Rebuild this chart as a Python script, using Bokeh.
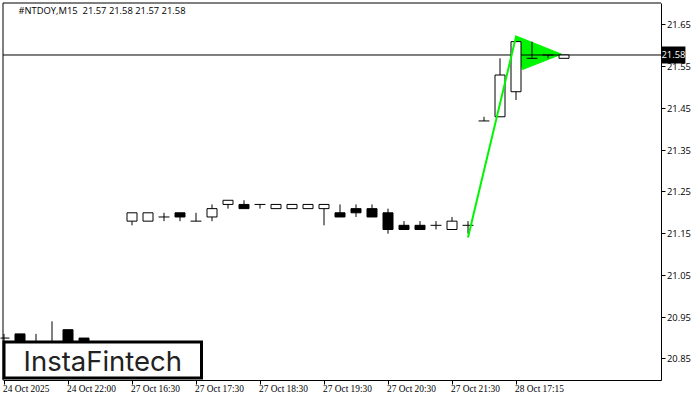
from bokeh.plotting import figure
from bokeh.models import (ColumnDataSource, FixedTicker, Label, LabelSet, Range1d, BoxAnnotation)
from bokeh.embed import file_html
from bokeh.resources import INLINE

title_text = "#NTDOY,M15\u00a0 21.57 21.58 21.57 21.58"
logo_text = "InstaFintech"
last_price = 21.578
last_label = "21.58"

idx = [0, 1, 2, 3, 4, 5,
       8, 9, 10, 11, 12, 13, 14, 15, 16, 17, 18, 19, 20, 21, 22, 23, 24, 25, 26, 27, 28, 29,
       30, 31, 32, 33, 34, 35]
opens = [20.90, 20.91, 20.88, 20.88, 20.92, 20.90,
         21.18, 21.18, 21.19, 21.20, 21.18, 21.19, 21.22, 21.22, 21.22, 21.21, 21.21, 21.21, 21.21,
         21.20, 21.21, 21.21, 21.20, 21.17, 21.17, 21.17, 21.16, 21.17,
         21.42, 21.43, 21.49, 21.57, 21.578, 21.57]
closes = [20.90, 20.88, 20.88, 20.88, 20.88, 20.88,
          21.20, 21.20, 21.19, 21.19, 21.18, 21.21, 21.23, 21.21, 21.22, 21.22, 21.22, 21.22, 21.22,
          21.19, 21.20, 21.19, 21.16, 21.16, 21.16, 21.17, 21.18, 21.17,
          21.42, 21.53, 21.61, 21.57, 21.578, 21.578]
highs = [20.91, 20.91, 20.91, 20.94, 20.92, 20.90,
         21.20, 21.20, 21.20, 21.20, 21.20, 21.22, 21.23, 21.23, 21.22, 21.22, 21.22, 21.22, 21.22,
         21.22, 21.22, 21.22, 21.21, 21.18, 21.18, 21.18, 21.19, 21.18,
         21.43, 21.57, 21.61, 21.61, 21.578, 21.578]
lows = [20.88, 20.87, 20.87, 20.87, 20.86, 20.86,
        21.17, 21.18, 21.18, 21.18, 21.18, 21.18, 21.21, 21.21, 21.21, 21.21, 21.21, 21.21, 21.17,
        21.19, 21.19, 21.19, 21.15, 21.16, 21.16, 21.16, 21.16, 21.15,
        21.42, 21.43, 21.47, 21.57, 21.57, 21.57]

pole_x = [29, 32]
pole_y = [21.141, 21.622]
flag_x = [31.97, 32.4, 34.85]
flag_y = [21.624, 21.543, 21.58]

price_ticks = [21.65, 21.55, 21.45, 21.35, 21.25, 21.15, 21.05, 20.95, 20.85]
time_ticks = [0, 4, 8, 12, 16, 20, 24, 28, 32]
time_labels = ["24 Oct 2025", "24 Oct 22:00", "27 Oct 16:30", "27 Oct 17:30", "27 Oct 18:30",
               "27 Oct 19:30", "27 Oct 20:30", "27 Oct 21:30", "28 Oct 17:15"]

FONT = "Open Sans"
FS = "9.4px"
GREEN = "#00f500"
# the frame fills the whole canvas; the axes are pinned inside it
XS, XE = -3.5 / 16, 696.5 / 16
YT, YB = 21.2 + 212.3 / 417.5, 21.2 - 187.7 / 417.5
PL, PR = -0.0625, 41.0625     # plot-box edges in index units
PB, PT = 20.799, 21.7025      # plot-box edges in price units

p = figure(width=700, height=400, output_backend="svg", toolbar_location=None,
           x_range=Range1d(XS, XE), y_range=Range1d(YB, YT),
           y_axis_location="right",
           min_border=0, background_fill_color="white", border_fill_color="white")
p.frame_width = 700
p.frame_height = 400
p.xgrid.visible = False
p.ygrid.visible = False
p.outline_line_color = None

ax = p.yaxis[0]
ax.fixed_location = PR
ax.bounds = (PB, PT)
ax.ticker = FixedTicker(ticks=price_ticks)
ax.major_label_overrides = {t: f"{t:.2f}" for t in price_ticks}
ax.major_tick_in = 0
ax.major_tick_out = 4
ax.minor_tick_line_color = None
ax.axis_line_color = "black"
ax.major_tick_line_color = "black"
ax.major_label_standoff = 2
ax.major_label_text_font = FONT
ax.major_label_text_font_size = FS
ax.major_label_text_color = "black"

bx = p.xaxis[0]
bx.fixed_location = PB
bx.bounds = (PL, PR)
bx.ticker = FixedTicker(ticks=time_ticks)
bx.major_label_overrides = {t: "" for t in time_ticks}
bx.major_tick_in = 0
bx.major_tick_out = 4
bx.minor_tick_line_color = None
bx.axis_line_color = "black"
bx.major_tick_line_color = "black"

p.line([PL, PL, PR], [PB, PT, PT], line_color="black", line_width=1, line_join="miter")

# pennant body, under the price line and the candles
p.patch(flag_x, flag_y, fill_color=GREEN, line_color=GREEN, line_width=1)
p.line([PL, PR], [last_price, last_price], line_color="black", line_width=1)

src = ColumnDataSource(dict(x=idx, o=opens, c=closes, h=highs, l=lows))
p.segment("x", "h", "x", "l", source=src, line_color="black", line_width=1)

def pick(cond):
    k = [i for i in range(len(idx)) if cond(opens[i], closes[i])]
    return ColumnDataSource(dict(x=[idx[i] for i in k],
                                 x0=[idx[i] - 0.34 for i in k], x1=[idx[i] + 0.34 for i in k],
                                 top=[max(opens[i], closes[i]) for i in k],
                                 bot=[min(opens[i], closes[i]) for i in k]))

p.vbar("x", 0.625, "bot", "top", source=pick(lambda a, b: b > a), fill_color="white", line_color="black",
       line_width=1, line_join="miter")
p.vbar("x", 0.625, "bot", "top", source=pick(lambda a, b: b < a), fill_color="black", line_color="black",
       line_width=1, line_join="miter")
p.segment("x0", "top", "x1", "top", source=pick(lambda a, b: a == b), line_color="black", line_width=1)

p.line(pole_x, pole_y, line_color=GREEN, line_width=2)

tsrc = ColumnDataSource(dict(x=time_ticks, y=[PB] * len(time_ticks), t=time_labels))
p.add_layout(LabelSet(x="x", y="y", text="t", source=tsrc, x_offset=-1, y_offset=-4,
                      text_align="left", text_baseline="top",
                      text_font=FONT, text_font_size=FS, text_color="black"))

p.add_layout(Label(x=18, x_units="screen", y=PT, y_units="data", y_offset=-7, text=title_text,
                   text_baseline="middle", text_font=FONT, text_font_size=FS, text_color="black"))

p.add_layout(Label(x=661, x_units="screen", y=last_price, y_units="data", text=last_label,
                   text_baseline="middle", text_font=FONT, text_font_size=FS, text_color="white",
                   background_fill_color="black", padding=(0, 5)))

p.add_layout(BoxAnnotation(left=3.5, right=201, top=58.5, bottom=22.5,
                           left_units="screen", right_units="screen", top_units="screen", bottom_units="screen",
                           fill_color="white", fill_alpha=1, line_color="black", line_width=3, line_alpha=1,
                           line_join="miter"))
p.add_layout(Label(x=23, x_units="screen", y=40, y_units="screen", text=logo_text,
                   text_baseline="middle", text_font="Inter", text_font_size="27.5px", text_color="#222222"))

open("out.html", "w").write(file_html(p, INLINE))
